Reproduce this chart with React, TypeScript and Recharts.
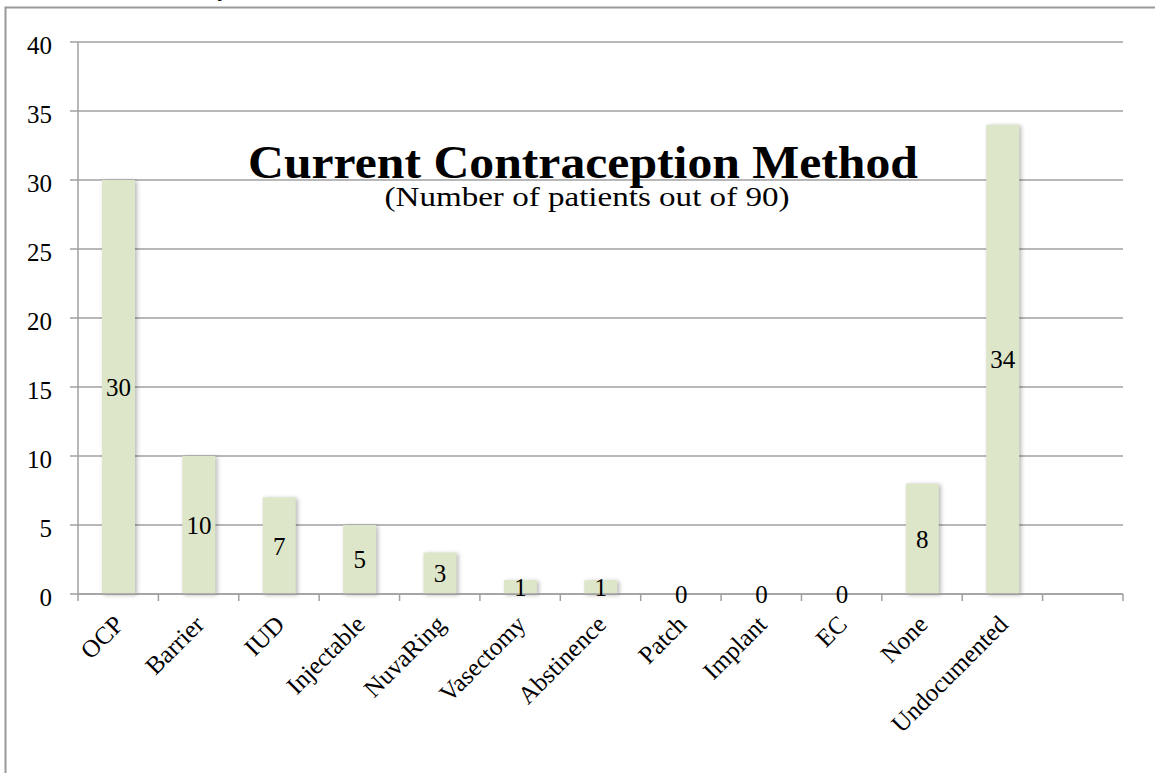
import React from 'react';
import { BarChart, Bar, XAxis, YAxis, CartesianGrid, LabelList, Customized } from 'recharts';

const categories = ['OCP', 'Barrier', 'IUD', 'Injectable', 'NuvaRing', 'Vasectomy', 'Abstinence', 'Patch', 'Implant', 'EC', 'None', 'Undocumented', ''];
const counts: (number | null)[] = [30, 10, 7, 5, 3, 1, 1, 0, 0, 0, 8, 34, null];
const yTicks = [0, 5, 10, 15, 20, 25, 30, 35, 40];
const titleText = 'Current Contraception Method';
const subtitleText = '(Number of patients out of 90)';

const data = categories.map((name, i) => ({ name, value: counts[i] }));

const W = 1155;
const H = 773;
const MARGIN = { top: 42, right: 32, bottom: 0, left: 18 };
const Y_AXIS_W = 60;
const X_AXIS_H = 179;
const PLOT_LEFT = MARGIN.left + Y_AXIS_W;
const PLOT_W = W - PLOT_LEFT - MARGIN.right;
const AXIS_Y = H - X_AXIS_H;
const BAND = PLOT_W / categories.length;
const FONT = '"Liberation Serif", "DejaVu Serif", serif';
const AXIS_COLOR = '#a0a0a0';
const FS = 25;

const XTick = (props: any) => {
  const { x, y, payload, index } = props;
  const left = x - BAND / 2;
  const right = x + BAND / 2;
  const tx = x + 7;
  const ty = y + 32;
  return (
    <g>
      <line x1={left} x2={left} y1={AXIS_Y} y2={AXIS_Y + 7} stroke={AXIS_COLOR} strokeWidth={1.5} />
      {index === categories.length - 1 && (
        <line x1={right} x2={right} y1={AXIS_Y} y2={AXIS_Y + 7} stroke={AXIS_COLOR} strokeWidth={1.5} />
      )}
      <text
        x={tx}
        y={ty}
        textAnchor="end"
        transform={`rotate(-45, ${tx}, ${ty})`}
        fontFamily={FONT}
        fontSize={FS}
        fill="#000"
      >
        {payload.value}
      </text>
    </g>
  );
};

const BarShape = (props: any) => {
  const { x, y, width, height } = props;
  if (!height || height <= 0) return null;
  return (
    <rect
      x={x}
      y={y}
      width={width}
      height={height}
      fill="#dde6c8"
      style={{ filter: 'drop-shadow(2px 1px 2px rgba(0,0,0,0.28))' }}
    />
  );
};

const Titles = () => (
  <g>
    <text x={583} y={178} textAnchor="middle" fontFamily={FONT} fontWeight="bold" fontSize={46} fill="#000"
      textLength={670} lengthAdjust="spacingAndGlyphs">
      {titleText}
    </text>
    <text x={587} y={206} textAnchor="middle" fontFamily={FONT} fontSize={28} fill="#000"
      textLength={405} lengthAdjust="spacingAndGlyphs">
      {subtitleText}
    </text>
    <text x={220} y={-4} fontFamily={FONT} fontStyle="italic" fontSize={24} fill="#000">y</text>
    <path d={`M 5.5 ${H} L 5.5 7.5 L ${W} 7.5`} fill="none" stroke="#9a9a9a" strokeWidth={2} />
  </g>
);

export default function App() {
  return (
    <div style={{ position: 'absolute', left: 0, top: 0, width: W, height: H, background: '#fff', overflow: 'hidden' }}>
      <BarChart width={W} height={H} data={data} margin={MARGIN} barCategoryGap={0}>
        <CartesianGrid vertical={false} stroke={AXIS_COLOR} strokeWidth={1.5} />
        <XAxis
          dataKey="name"
          interval={0}
          height={X_AXIS_H}
          tickLine={false}
          tickSize={0}
          tickMargin={0}
          axisLine={{ stroke: AXIS_COLOR, strokeWidth: 1.5 }}
          tick={<XTick />}
        />
        <YAxis
          width={Y_AXIS_W}
          domain={[0, 40]}
          ticks={yTicks}
          interval={0}
          tickSize={8}
          tickMargin={18}
          tickLine={{ stroke: AXIS_COLOR, strokeWidth: 1.5 }}
          axisLine={{ stroke: AXIS_COLOR, strokeWidth: 1.5 }}
          tick={{ fill: '#000', fontSize: FS, fontFamily: FONT, dy: 3 }}
        />
        <Bar dataKey="value" barSize={33} isAnimationActive={false} shape={<BarShape />}>
          <LabelList dataKey="value" position="center" fill="#000" fontSize={FS} fontFamily={FONT} />
        </Bar>
        <Customized component={Titles} />
      </BarChart>
    </div>
  );
}
